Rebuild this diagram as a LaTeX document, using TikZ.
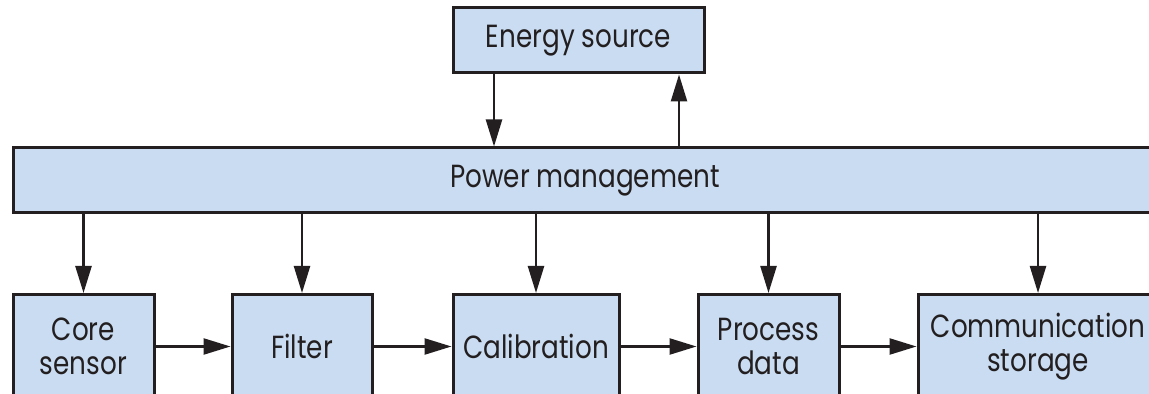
\documentclass[tikz,border=0pt]{standalone}
\usepackage{fontspec}
\setmainfont{Poppins}[FakeStretch=0.82]
\usetikzlibrary{arrows.meta}
\definecolor{boxblue}{HTML}{C9DCF1}
\definecolor{ink}{HTML}{231F20}
\tikzstyle{block}=[draw=ink, fill=boxblue, line width=1.5pt, inner sep=0, text=ink, align=center, font=\fontsize{16}{17}\selectfont]
\tikzstyle{stage}=[block, anchor=north, minimum height=52pt]
\tikzstyle{arr}=[ink, line width=1.2pt, -{Triangle[length=13.5pt, width=8pt]}]

\begin{document}
\begin{tikzpicture}[x=0.5pt, y=-0.5pt]
  \useasboundingbox (0, 0) rectangle (1149, 394);
  \clip (0, 0) rectangle (1149, 394);

  % TOP AND MIDDLE
  \node[block, minimum width=125.5pt, minimum height=32.5pt] (energy) at (578.5, 40.5) {Energy source};
  \node[block, minimum width=572pt, minimum height=32.5pt] (power) at (585, 180.5) {Power management};

  \draw[arr] ([xshift=-42.25pt]energy.south) -- ([xshift=-42.25pt]energy.south |- power.north);
  \draw[arr] ([xshift=50.25pt]energy.south |- power.north) -- ([xshift=50.25pt]energy.south);

  % STAGES
  \foreach \name/\x/\w/\txt in {core/83.5/141/{Core\\sensor}, filter/302/140/{Filter},
      calib/536/166/{Calibration}, proc/768.5/141/{Process\\data}, comm/1038/240/{Communication\\storage}}{
    \node[stage, minimum width=\w*0.5pt] (\name) at (\x, 293) {\txt};
    \draw[arr] (power.south -| \name.north) -- (\name.north);
  }

  % CHAIN
  \foreach \a/\b in {core/filter, filter/calib, calib/proc, proc/comm}{
    \draw[arr] (\a.east) -- (\b.west);
  }
\end{tikzpicture}
\end{document}
